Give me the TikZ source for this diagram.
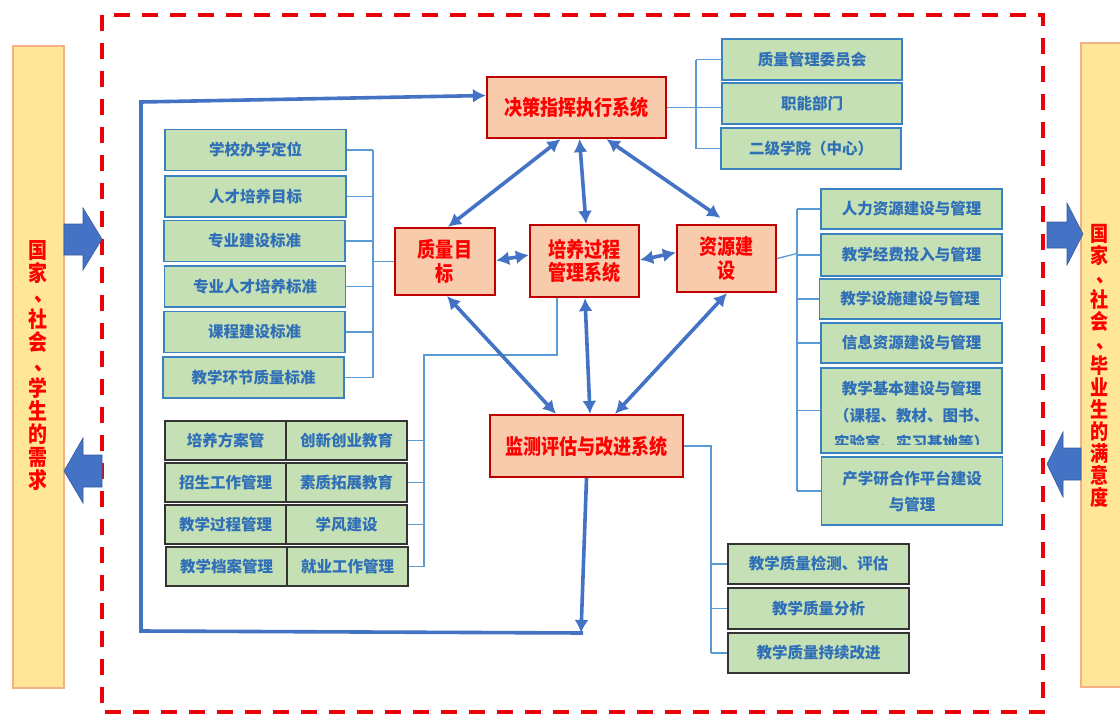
\documentclass[tikz,border=0pt]{standalone}
\usepackage{fontspec}
\newfontfamily\cjk{Noto Sans CJK SC}
\newfontfamily\cjkn[FakeStretch=0.86]{Noto Sans CJK SC}
\newcommand{\vdun}{\makebox[1em][l]{\hspace{0.32em}\raisebox{0.15em}{、}}}
\usetikzlibrary{arrows.meta}
\definecolor{gfill}{HTML}{C5E0B4}
\definecolor{gblue}{HTML}{3B83C0}
\definecolor{gtext}{HTML}{2F6FB8}
\definecolor{rfill}{HTML}{F8CBAD}
\definecolor{rdark}{HTML}{C00000}
\definecolor{abl}{HTML}{4472C4}
\definecolor{lbl}{HTML}{5B9BD5}
\definecolor{yfill}{HTML}{FFE699}
\definecolor{yedge}{HTML}{F4B183}
\definecolor{dred}{HTML}{FF0000}
\definecolor{fred}{HTML}{E8000B}
\begin{document}
\begin{tikzpicture}[x=1pt,y=-1pt,
 every node/.style={font=\cjk},
 redbox/.style={draw=rdark, line width=2.2pt, fill=rfill, text=dred, font=\cjkn\bfseries\fontsize{21}{23.5}\selectfont, align=center, inner sep=0pt},
 gbox/.style={draw=gblue, line width=1.6pt, fill=gfill, text=gtext, font=\cjk\bfseries\fontsize{15.5}{26}\selectfont, align=center, inner sep=0pt, minimum width=181pt, minimum height=41pt},
 kbox/.style={gbox, draw=black!80},
 thinln/.style={draw=lbl, line width=1.3pt},
 dbl/.style={draw=abl, line width=3.6pt, {Latex[length=13pt,width=14pt]}-{Latex[length=13pt,width=14pt]}},
 onearr/.style={draw=abl, line width=3.6pt, -{Latex[length=13pt,width=14pt]}},
 blk/.style={fill=abl, draw=abl!80!black, line width=0.6pt},
 sidetxt/.style={text=dred, font=\cjkn\bfseries\fontsize{22}{23}\selectfont, align=center, inner sep=0pt}
]
\fill[white] (0,0) rectangle (1120,715);
\useasboundingbox (0,0) rectangle (1120,715);

% side bars
\draw[fill=yfill, draw=yedge, line width=2.5pt] (13,46) rectangle (64,688);
\begin{scope}
\clip (0,0) rectangle (1120,715);
\draw[fill=yfill, draw=yedge, line width=2.5pt] (1081,43) rectangle (1140,687);
\end{scope}
\node[sidetxt] (lt) at (38,366) {国\\家\\\vdun\\社\\会\\\vdun\\学\\生\\的\\需\\求};
\node[sidetxt, font=\cjkn\bfseries\fontsize{21}{22}\selectfont] (rt) at (1100,366) {国\\家\\\vdun\\社\\会\\\vdun\\毕\\业\\生\\的\\满\\意\\度};

% dashed frame
\draw[fred, line width=4pt, dash pattern=on 16pt off 12pt] (102,15) rectangle (1043,712);

% block arrows
\draw[blk] (64,224) -- (83,224) -- (83,208) -- (102,239) -- (83,270) -- (83,255) -- (64,255) -- cycle;
\draw[blk] (102,455) -- (83,455) -- (83,438) -- (64,471) -- (83,503) -- (83,487) -- (102,487) -- cycle;
\draw[blk] (1047,222) -- (1067,222) -- (1067,203) -- (1083,234) -- (1067,265) -- (1067,248) -- (1047,248) -- cycle;
\draw[blk] (1081,448) -- (1063,448) -- (1063,432) -- (1047,464) -- (1063,497) -- (1063,480) -- (1081,480) -- cycle;

% central red boxes
\node[redbox, minimum width=179pt, minimum height=61pt] (jueCe) at (576.5,107.5) {决策指挥执行系统};
\node[redbox, minimum width=100pt, minimum height=67pt] (zhiLiang) at (445,261.5) {质量目\\标};
\node[redbox, minimum width=109pt, minimum height=72pt] (peiYang) at (584.5,261) {培养过程\\管理系统};
\node[redbox, minimum width=99pt, minimum height=67pt] (ziYuan) at (726.5,258.5) {资源建\\设};
\node[redbox, minimum width=193pt, minimum height=62pt] (jianCe) at (586.5,446) {监测评估与改进系统};

% helper coordinates for brackets
\coordinate (bl) at (373,0);
\coordinate (bg) at (424,0);
\coordinate (bu) at (696,0);
\coordinate (bm) at (797,0);
\coordinate (bb) at (711,0);

% left column
\node[gbox] (s1) at (255.5,150) {学校办学定位};
\node[gbox] (s2) at (255.5,196.5) {人才培养目标};
\node[gbox] (s3) at (254.5,241) {专业建设标准};
\node[gbox] (s4) at (255,286.5) {专业人才培养标准};
\node[gbox] (s5) at (254.5,332) {课程建设标准};
\node[gbox] (s6) at (253.5,377.5) {教学环节质量标准};
\draw[thinln] (s1.east -| bl) -- (s6.east -| bl);
\foreach \i in {1,...,6} { \draw[thinln] (s\i.east) -- (s\i.east -| bl); }
\draw[thinln] (zhiLiang.west) -- (zhiLiang.west -| bl);

% lower left grid
\node[kbox, minimum width=121pt, minimum height=39pt] (g1a) at (225.5,440.5) {培养方案管};
\node[kbox, minimum width=121pt, minimum height=39pt] (g1b) at (346.5,440.5) {创新创业教育};
\node[kbox, minimum width=121pt, minimum height=39pt] (g2a) at (225.5,482.5) {招生工作管理};
\node[kbox, minimum width=121pt, minimum height=39pt] (g2b) at (346.5,482.5) {素质拓展教育};
\node[kbox, minimum width=121pt, minimum height=39pt] (g3a) at (225.5,524.5) {教学过程管理};
\node[kbox, minimum width=121pt, minimum height=39pt] (g3b) at (346.5,524.5) {学风建设};
\node[kbox, minimum width=121pt, minimum height=39pt] (g4a) at (226.5,566.5) {教学档案管理};
\node[kbox, minimum width=121pt, minimum height=39pt] (g4b) at (347.5,566.5) {就业工作管理};
\foreach \i in {1,...,4} { \draw[thinln] (g\i b.east) -- (g\i b.east -| bg); }
\draw[thinln] ([xshift=-27.5pt]peiYang.south) |- (424,355) -- (g4b.east -| bg);

% upper right column
\node[gbox, minimum width=180pt] (u1) at (812,59.5) {质量管理委员会};
\node[gbox, minimum width=180pt] (u2) at (812,103.5) {职能部门};
\node[gbox, minimum width=180pt] (u3) at (811,148.5) {二级学院（中心）};
\draw[thinln] (u1.west -| bu) -- (u3.west -| bu);
\draw[thinln] (u1.west -| bu) -- (u1.west);
\draw[thinln] (u3.west -| bu) -- (u3.west);
\draw[thinln] (jueCe.east) -- (jueCe.east -| u2.west);

% middle right column
\node[gbox, minimum height=40pt] (m1) at (911.5,209) {人力资源建设与管理};
\node[gbox, minimum height=42pt] (m2) at (911.5,255) {教学经费投入与管理};
\node[gbox, minimum height=40pt] (m3) at (910,299) {教学设施建设与管理};
\node[gbox, minimum height=40pt] (m4) at (911.5,343) {信息资源建设与管理};
\node[gbox, minimum height=85pt] (m5) at (911.5,410.5) {};
\begin{scope}
\clip (822,369) rectangle (1001,444);
\node[text=gtext, font=\cjk\bfseries\fontsize{15.5}{27}\selectfont, align=center, inner sep=0pt] (m5t) at (911.5,416) {教学基本建设与管理\\（课程、教材、图书、\\实验室、实习基地等）};
\end{scope}
\node[gbox, minimum height=68pt] (m6) at (912,491) {产学研合作平台建设\\与管理};
\draw[thinln] (m1.west -| bm) -- (m6.west -| bm);
\draw[thinln] (m1.west -| bm) -- (m1.west);
\draw[thinln] (m2.west -| bm) -- (m2.west);
\draw[thinln] (m3.west -| bm) -- (m3.west);
\draw[thinln] (m4.west -| bm) -- (m4.west);
\draw[thinln] (m5.west -| bm) -- (m5.west);
\draw[thinln] (m6.west -| bm) -- (m6.west);
\draw[thinln] (ziYuan.east) -- ([yshift=5pt]ziYuan.east -| bm);

% bottom right column
\node[kbox, minimum height=40pt] (b1) at (818.5,564) {教学质量检测、评估};
\node[kbox] (b2) at (818.5,608.5) {教学质量分析};
\node[kbox, minimum height=40pt] (b3) at (818.5,653) {教学质量持续改进};
\draw[thinln] (jianCe.east) -| (b3.west -| bb);
\foreach \i in {1,2,3} { \draw[thinln] (b\i.west -| bb) -- (b\i.west); }

% double arrows between core systems
\draw[dbl] ([xshift=-16pt]jueCe.south) -- ([xshift=3pt]zhiLiang.north);
\draw[dbl] ([xshift=3pt]jueCe.south) -- ([xshift=1.5pt]peiYang.north);
\draw[dbl] ([xshift=30pt]jueCe.south) -- ([xshift=-6pt,yshift=6pt]ziYuan.north);
\draw[dbl] ([yshift=1pt]zhiLiang.east) -- ([yshift=6pt]peiYang.west);
\draw[dbl] ([yshift=1pt]peiYang.east) -- ([yshift=6pt]ziYuan.west);
\draw[dbl] ([xshift=2pt]zhiLiang.south) -- ([xshift=-30.5pt]jianCe.north);
\draw[dbl] ([xshift=0.5pt]peiYang.south) -- ([xshift=3.5pt]jianCe.north);
\draw[dbl] ([xshift=0.5pt]ziYuan.south) -- ([xshift=28.5pt]jianCe.north);

% feedback loop
\coordinate (fb1) at (581,633);
\coordinate (fb2) at (141,631);
\coordinate (fb3) at (141,102);
\draw[draw=abl, line width=3.6pt] (583,633) -- (fb2) -- (fb3) -- (300,99);
\draw[onearr] (300,99) -- ([yshift=12pt]jueCe.west);
\draw[onearr] (jianCe.south) -- (fb1);
\end{tikzpicture}
\end{document}
